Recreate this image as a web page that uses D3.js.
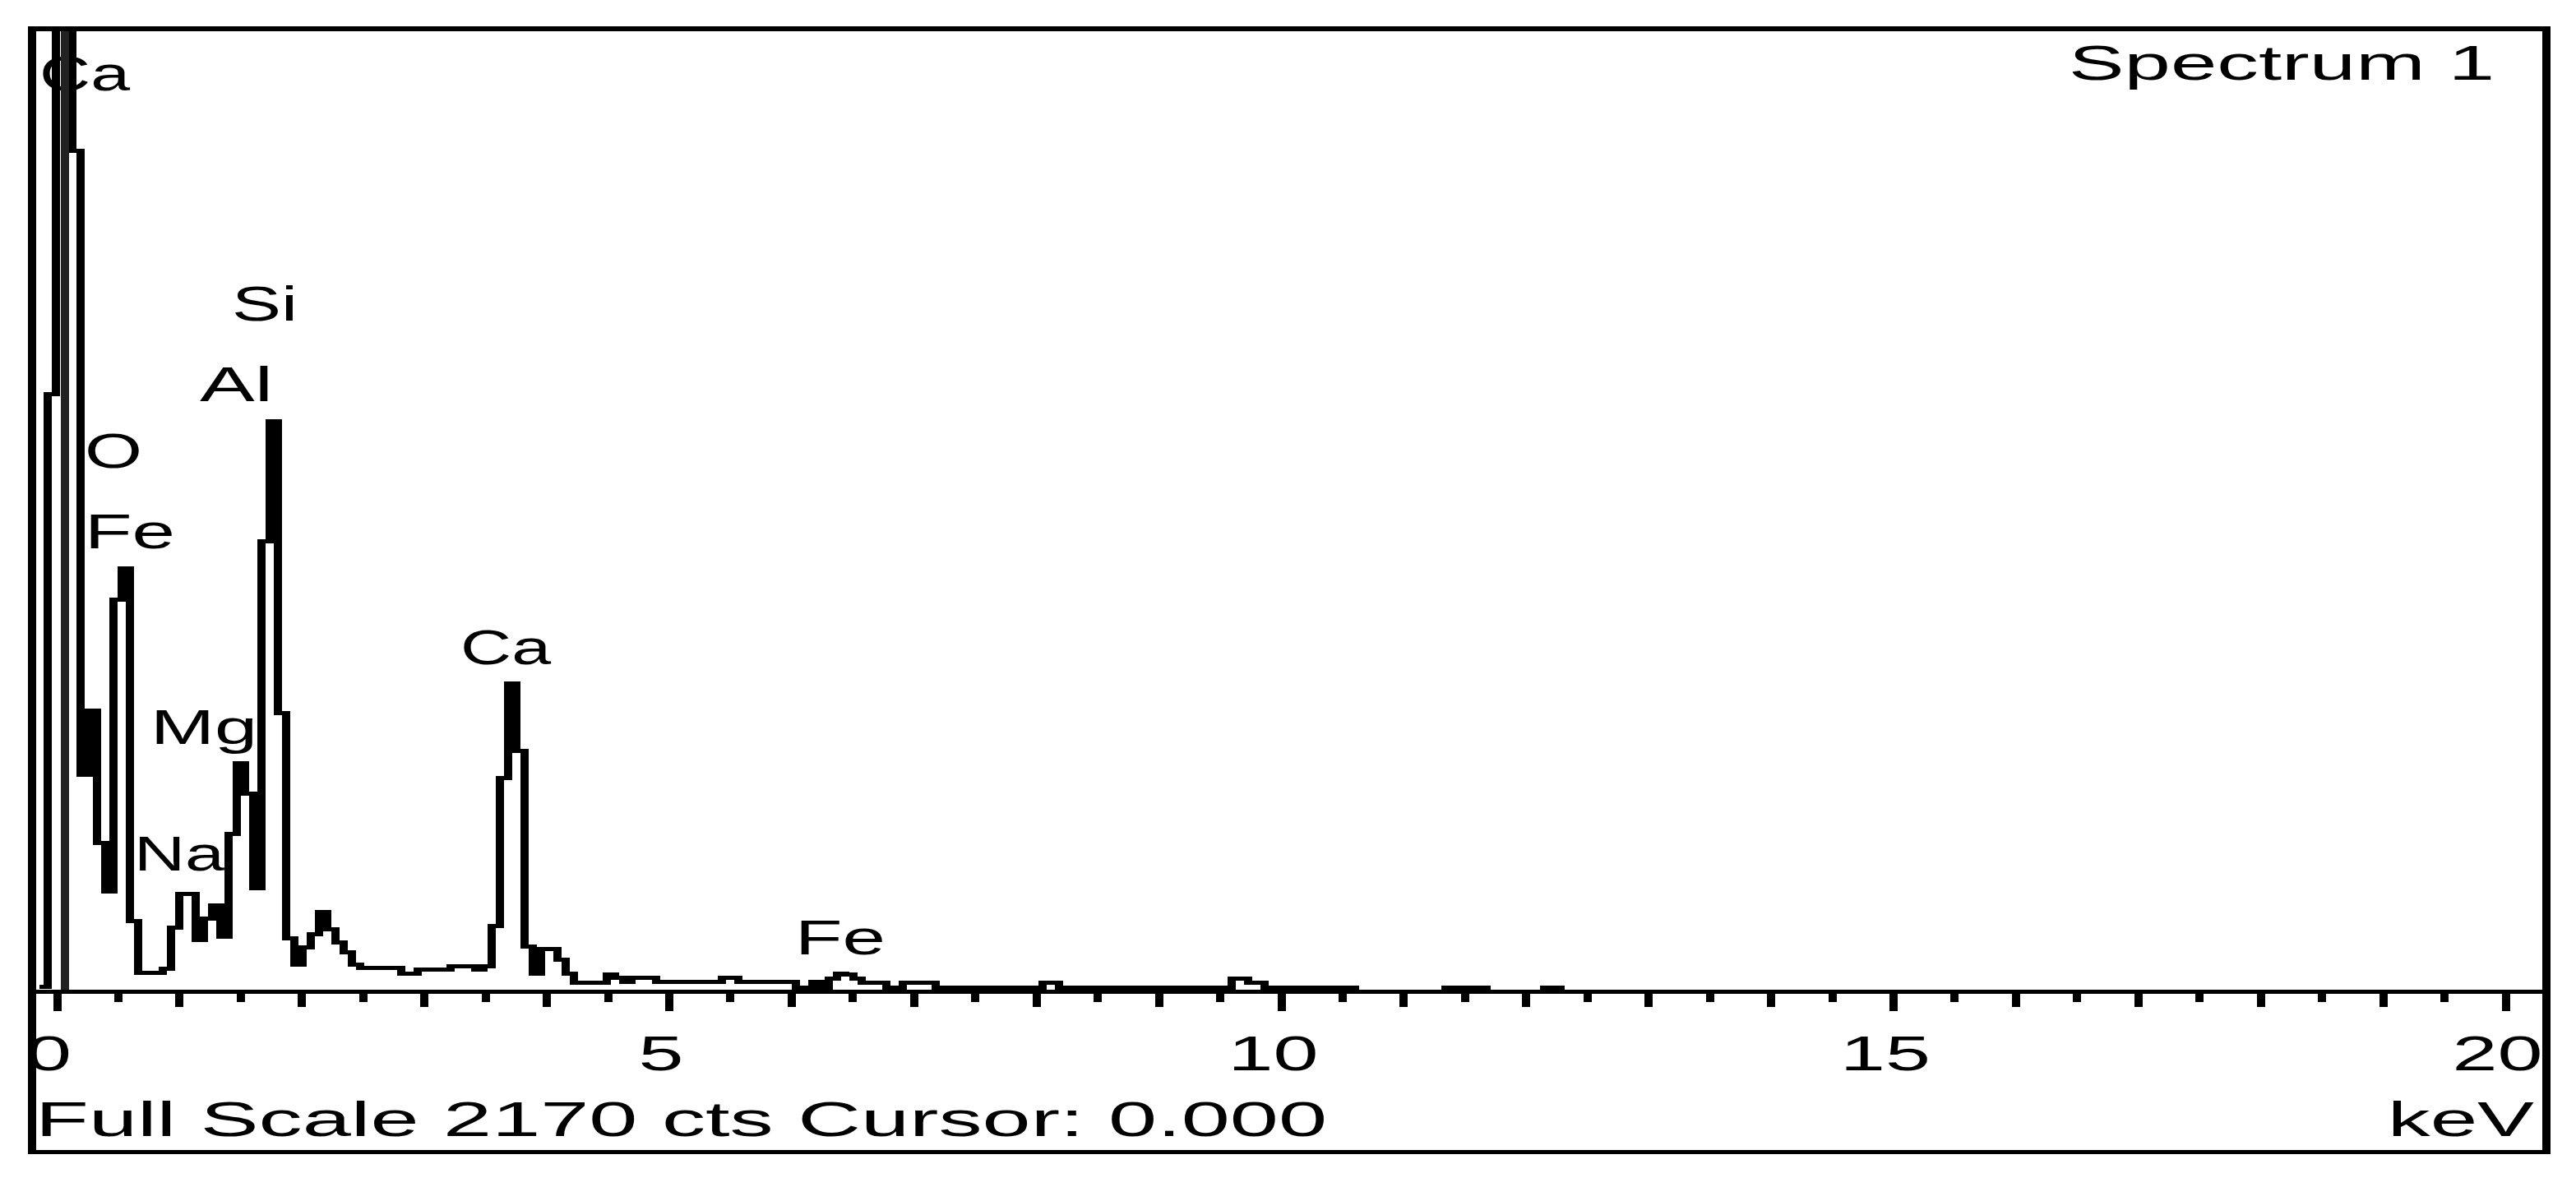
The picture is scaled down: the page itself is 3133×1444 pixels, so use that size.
<!DOCTYPE html>
<html>
<head>
<meta charset="utf-8">
<script src="https://cdn.jsdelivr.net/npm/d3@7"></script>
<style>
  body { margin: 0; background: #fff; }
  text { font-family: "Liberation Sans", Arial, sans-serif; }
</style>
</head>
<body>
<div id="chart-area"></div>
<script>
// spectrum, one value per display channel
const startKeV = -0.143;
const keVPerChannel = 0.06716;
const counts = [
  11, 1353, 2900, 3100, 1904, 491, 636, 337, 227, 888,
  958, 160, 43, 43, 43, 52, 145, 221, 221, 117,
  166, 195, 125, 357, 517, 448, 234, 1020, 1292, 631,
  121, 61, 100, 130, 181, 141, 112, 89, 61, 54,
  54, 54, 54, 54, 41, 41, 50, 50, 50, 50,
  58, 58, 58, 50, 58, 149, 484, 698, 545, 102,
  41, 97, 97, 73, 41, 20, 20, 20, 20, 39,
  32, 22, 32, 32, 32, 22, 22, 22, 22, 22,
  22, 22, 22, 32, 32, 22, 22, 22, 22, 22,
  22, 22, 9, 9, 22, 9, 30, 41, 39, 30,
  20, 20, 20, 9, 9, 20, 20, 20, 20, 9,
  9, 9, 9, 9, 9, 9, 9, 9, 9, 9,
  9, 9, 20, 20, 9, 9, 9, 9, 9, 9,
  9, 9, 9, 9, 0, 9, 9, 9, 9, 9,
  9, 9, 9, 9, 9, 30, 30, 20, 20, 9,
  9, 9, 9, 9, 9, 9, 9, 9, 9, 9,
  0, 0, 0, 0, 0, 0, 0, 0, 0, 0,
  0, 9, 9, 9, 9, 9, 0, 0, 0, 0,
  0, 0, 0, 9, 9, 0, 0, 0, 0, 0,
  0, 0, 0, 0, 0, 0, 0, 0, 0, 0,
  0, 0, 0
];
const fullScale = 2170;
const cursorKeV = 0.000;
const majorTicks = [0, 5, 10, 15, 20];

// element labels: name, energy of left edge, height of baseline (cts)
const peakNames = ["Ca", "Si", "Al", "O", "Fe", "Mg", "Na", "Ca", "Fe"];
const peakKeV = [-0.141, 1.430, 1.169, 0.228, 0.228, 0.766, 0.631, 3.298, 6.031];
const peakCts = [2041, 1520, 1337, 1186, 1004, 561, 274, 742, 85];

const W = 3133, H = 1444;
const frame = {left: 34, right: 3102, top: 32, bottom: 1404};
const axisY = 1204;

const svg = d3.select("#chart-area")
  .append("svg")
  .attr("width", W)
  .attr("height", H)
  .style("display", "block");

svg.append("rect").attr("width", W).attr("height", H).attr("fill", "#fff");

const x = d3.scaleLinear().domain([0, 20]).range([69, 3047]);
const y = d3.scaleLinear().domain([0, fullScale]).range([axisY + 2.5, 40.5]);

const data = counts.map((c, i) => ({e: startKeV + i * keVPerChannel, c: c}));

// clip to the plot area
svg.append("clipPath").attr("id", "plot-clip")
  .append("rect")
  .attr("x", frame.left + 10).attr("y", frame.top + 6)
  .attr("width", frame.right - frame.left - 20)
  .attr("height", axisY + 5 - frame.top - 6);

// pixel-style trace: 10px wide verticals, 5px tall horizontals
const plot = svg.append("g").attr("clip-path", "url(#plot-clip)");
const line = d3.line()
  .x(d => x(d.e) / 10)
  .y(d => y(d.c) / 5)
  .curve(d3.curveStepAfter);

plot.append("g")
  .attr("transform", "scale(10,5)")
  .append("path")
  .datum(data)
  .attr("d", line)
  .attr("fill", "none")
  .attr("stroke", "#000")
  .attr("stroke-width", 1)
  .attr("stroke-linejoin", "miter")
  .attr("shape-rendering", "crispEdges");

// labels
const labelWidth = {Ca: 110, Si: 80, Al: 89, O: 70, Fe: 110, Mg: 130, Na: 110};
svg.append("g").selectAll("text")
  .data(peakNames)
  .enter()
  .append("text")
  .attr("x", (d, i) => x(peakKeV[i]))
  .attr("y", (d, i) => y(peakCts[i]))
  .attr("font-size", "60px")
  .attr("textLength", d => labelWidth[d])
  .attr("lengthAdjust", "spacingAndGlyphs")
  .text(d => d);

// cursor
svg.append("rect")
  .attr("x", x(cursorKeV) + 5)
  .attr("y", frame.top + 6)
  .attr("width", 10)
  .attr("height", axisY - frame.top - 6)
  .attr("fill", "#222");

// axis line
svg.append("rect")
  .attr("x", frame.left).attr("y", axisY)
  .attr("width", frame.right - frame.left).attr("height", 5)
  .attr("fill", "#000");

function tickAxis(values, size) {
  return d3.axisBottom(x).tickValues(values).tickSize(size).tickFormat("");
}

const axisG = svg.append("g").attr("transform", "translate(0," + (axisY + 5) + ")");
axisG.append("g").call(tickAxis(d3.range(0.5, 20, 1), 10));
axisG.append("g").call(tickAxis(d3.range(0, 21, 1), 16));
axisG.append("g").call(
    d3.axisBottom(x).tickValues(majorTicks).tickSize(21).tickPadding(29).tickFormat(d3.format("d"))
  );
axisG.selectAll(".domain").remove();
axisG.selectAll(".tick line")
  .attr("stroke", "#000")
  .attr("stroke-width", 10)
  .attr("shape-rendering", "crispEdges");
axisG.selectAll(".tick text")
  .attr("fill", "#000")
  .attr("font-size", "60px")
  .attr("font-family", "Liberation Sans, Arial, sans-serif")
  .attr("dx", -10)
  .attr("textLength", d => String(d).length * 55)
  .attr("lengthAdjust", "spacingAndGlyphs");

// titles
svg.append("text")
  .attr("x", 2516).attr("y", 97)
  .attr("font-size", "60px")
  .attr("textLength", 518).attr("lengthAdjust", "spacingAndGlyphs")
  .text("Spectrum 1");

svg.append("text")
  .attr("x", 43).attr("y", 1382)
  .attr("font-size", "60px")
  .attr("textLength", 1571).attr("lengthAdjust", "spacingAndGlyphs")
  .text("Full Scale " + fullScale + " cts Cursor: " + cursorKeV.toFixed(3));

svg.append("text")
  .attr("x", 2904).attr("y", 1382)
  .attr("font-size", "60px")
  .attr("textLength", 178).attr("lengthAdjust", "spacingAndGlyphs")
  .text("keV");

// frame
const fr = svg.append("g").attr("fill", "#000");
fr.append("rect").attr("x", frame.left).attr("y", frame.top).attr("width", frame.right - frame.left).attr("height", 6);
fr.append("rect").attr("x", frame.left).attr("y", frame.bottom - 5).attr("width", frame.right - frame.left).attr("height", 5);
fr.append("rect").attr("x", frame.left).attr("y", frame.top).attr("width", 10).attr("height", frame.bottom - frame.top);
fr.append("rect").attr("x", frame.right - 10).attr("y", frame.top).attr("width", 10).attr("height", frame.bottom - frame.top);
</script>
</body>
</html>
